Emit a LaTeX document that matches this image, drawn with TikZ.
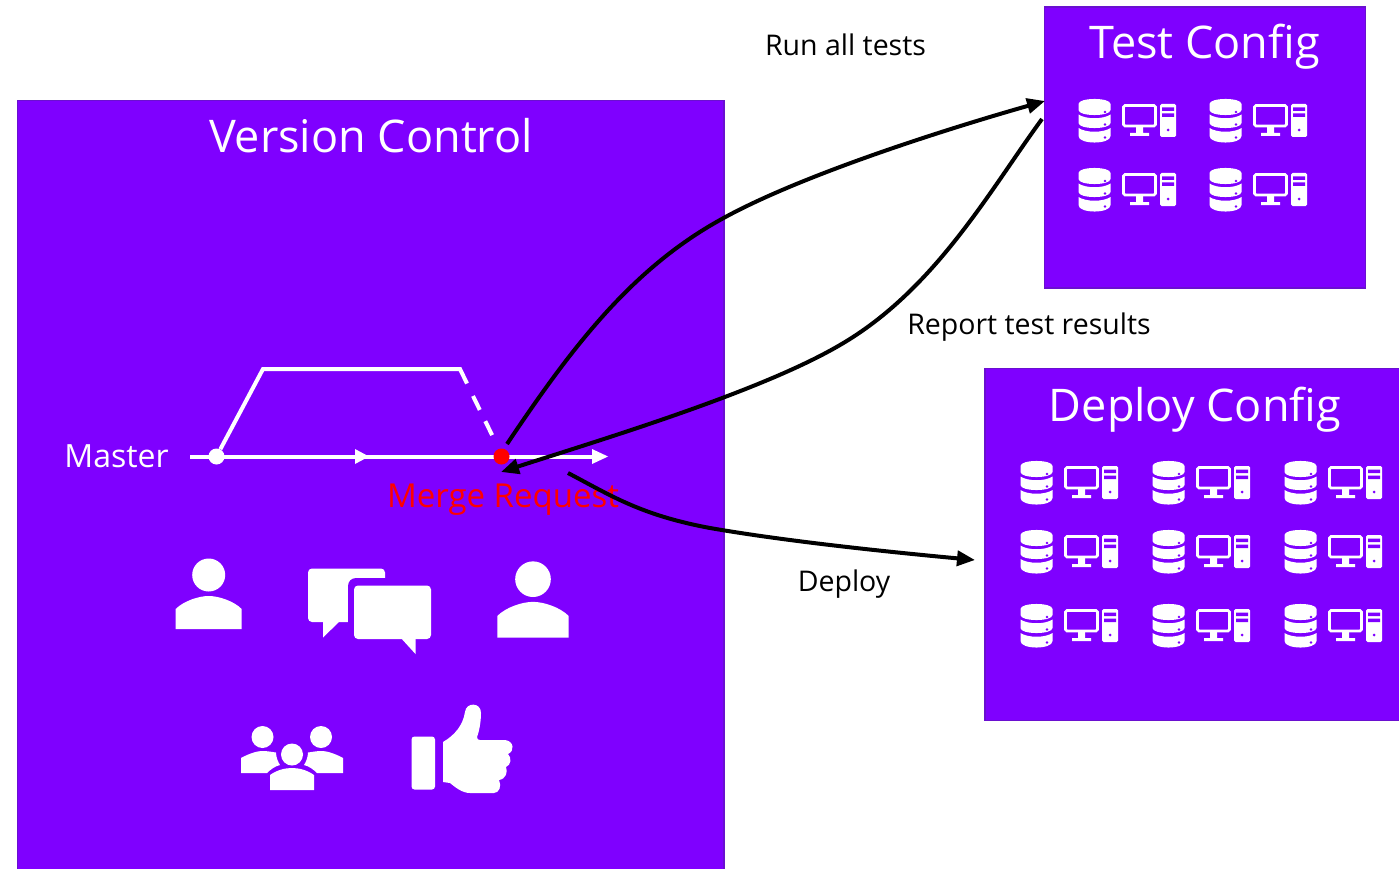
\documentclass[tikz,border=0pt]{standalone}
\usepackage{fontspec}
\setmainfont{Open Sans}
\usetikzlibrary{arrows.meta}
\definecolor{vio}{HTML}{7F00FF}
\definecolor{edgev}{HTML}{6A10D0}
\tikzset{
  panel/.style={draw=edgev,line width=1.8pt,fill=vio,outer sep=0pt},
  title/.style={text=white,font=\fontsize{45}{48}\selectfont,inner sep=0pt,anchor=base},
  lab/.style={text=black,font=\fontsize{28.5}{32}\selectfont,inner sep=0pt,anchor=base},
  branch/.style={white,line width=4pt},
  flow/.style={black,line width=4pt,-{Triangle[length=18pt,width=15pt]}},
  wt/.style={fill=white,draw=none},
  server/.pic={
    % database (origin = top-left of icon)
    \fill[white] (0.5,6) .. controls (0.5,-0.7) and (32.5,-0.7) .. (32.5,6) -- (32.5,12) .. controls (32.5,18.7) and (0.5,18.7) .. (0.5,12) -- cycle;
    \fill[white] (0.5,16.5) .. controls (8,21.5) and (25,21.5) .. (32.5,16.5) -- (32.5,25) .. controls (32.5,31.7) and (0.5,31.7) .. (0.5,25) -- cycle;
    \fill[white] (0.5,30) .. controls (8,35) and (25,35) .. (32.5,30) -- (32.5,38) .. controls (32.5,46.7) and (0.5,46.7) .. (0.5,38) -- cycle;
    \fill[vio] (27,14) circle (1.3) (27,26.5) circle (1.3) (27,39.5) circle (1.3);
    % monitor
    \draw[white,line width=2.6pt,rounded corners=1.5pt] (45.5,7.5) rectangle (77.5,28);
    \fill[white] (58,29) rectangle (65,35) (52,35) rectangle (71,38);
    % tower
    \fill[white,rounded corners=1.5pt] (82,6) rectangle (98,39);
    \fill[vio] (84,9.5) rectangle (96,13) (84,15.5) rectangle (96,19);
    \fill[vio] (90,32) circle (1.5);
  },
  person/.pic={
    \fill[white] (0,-54) circle (16.5);
    \fill[white] (-33,0) -- (-33,-20) .. controls (-25,-28) and (-10,-33) .. (0,-33) .. controls (10,-33) and (25,-28) .. (33,-20) -- (33,0) -- cycle;
  },
}
\begin{document}
\begin{tikzpicture}[x=1pt,y=-1pt]
\useasboundingbox (0,0) rectangle (1399,869);
\node[panel,minimum width=706.5pt,minimum height=775pt,anchor=north west,inner sep=0pt] (vc) at (17.5,100.5) {};
\node[panel,minimum width=321pt,minimum height=281pt,anchor=north west,inner sep=0pt] (tc) at (1044.5,7) {};
\fill[vio,draw=edgev,line width=1.8pt] (1420,368.5) -- (985,368.5) -- (985,720.5) -- (1420,720.5);
\node[title] (t1) at (371,153) {Version Control};
\node[title] (t2) at (1204.5,59) {Test Config};
\node[title] (t3) at (1195,421) {Deploy Config};
\node[lab] (l1) at (845.5,56) {Run all tests};
\node[lab] (l2) at (1029,334) {Report test results};
\node[lab] (l3) at (844,591) {Deploy};
\node[text=white,font=\fontsize{32}{36}\selectfont,inner sep=0pt,anchor=base] (m) at (116.5,467) {Master};
% icons
\foreach \x/\y in {1078/98,1209/98,1078/167,1209/167,1020/460,1152/460,1284/460,1020/529,1152/529,1284/529,1020/603,1152/603,1284/603}
  \pic at (\x,\y) {server};
% branches
\coordinate (start) at (190,456.5);
\coordinate (endm) at (600,456.5);
\coordinate (b1) at (263,369);
\coordinate (b2) at (460,369);
\draw[branch] (start) -- (endm);
\fill[white] (355,449) -- (369,456.5) -- (355,464) -- cycle;
\fill[white] (592,449) -- (608,456.5) -- (592,464) -- cycle;
\node[circle,fill=white,minimum size=16pt,inner sep=0pt] (n1) at (216.5,456.5) {};
\node[circle,fill=red,minimum size=16pt,inner sep=0pt] (n2) at (501.5,456.5) {};
\draw[branch,line join=miter] (n1) -- (b1) -- (b2) -- (467,383.5);
\draw[branch,dash pattern=on 15.5pt off 12.5pt] (473,396) -- (494,439);
\node[text=red,font=\fontsize{33}{36}\selectfont,inner sep=0pt,anchor=base] (mr) at (503,507) {Merge Request};
% people
\pic at (208.7,629) {person};
\pic[scale=1.08] at (533,637.5) {person};
% chat
\fill[wt,rounded corners=4pt] (308,568.5) rectangle (385,622);
\fill[white] (323,620) -- (323,637.5) -- (340,621) -- cycle;
\fill[vio,rounded corners=8pt] (348,578) rectangle (440,650);
\fill[wt,rounded corners=4pt] (354,585.5) rectangle (431,639);
\fill[white] (400,637) -- (415.5,654) -- (415.5,637) -- cycle;
% group
\fill[white] (262.5,737) circle (11) (321,737) circle (11) (292,754.5) circle (11);
\fill[white] (241,773) -- (241,758) .. controls (250,753) and (258,751) .. (262,751) .. controls (268,751) and (272,752) .. (276,752.5) .. controls (276,757) and (278,762) .. (280,765) .. controls (275,766) and (270,770) .. (267,773) -- cycle;
\fill[white] (343,773) -- (343,758) .. controls (334,753) and (326,751) .. (322,751) .. controls (316,751) and (312,752) .. (308,752.5) .. controls (308,757) and (306,762) .. (304,765) .. controls (309,766) and (314,770) .. (317,773) -- cycle;
\fill[white] (270,790) -- (270,775) .. controls (277,770) and (285,768) .. (292,768) .. controls (299,768) and (307,770) .. (314,775) -- (314,790) -- cycle;
% thumb
\fill[wt,rounded corners=3pt] (411.5,736.5) -- (435,736.5) -- (435,789.5) -- (411.5,789.5) -- cycle;
\fill[white] (443,742) .. controls (455,735) and (463,725) .. (465,712) .. controls (466,702) and (481,702) .. (481,713) .. controls (481,722) and (479,732) .. (477,737) .. controls (477,739) and (478,740) .. (480,740) -- (505,740) .. controls (514,741) and (515,751) .. (508,754) .. controls (512,758) and (511,765) .. (506,767) .. controls (508,772) and (506,779) .. (499,780) .. controls (502,786) and (499,793) .. (494,793) -- (470,793) .. controls (462,793) and (455,787) .. (450,783) -- (443,782) -- cycle;
% flows
\coordinate (a0) at (507,444);
\coordinate (a1) at (1045,101);
\coordinate (b0) at (1042,119);
\coordinate (b3) at (501,472);
\coordinate (c0) at (568,473);
\coordinate (c1) at (975,560);
\draw[flow] (a0) .. controls (570,350) and (630,270) .. (720,220) .. controls (800,175) and (950,128) .. (a1);
\draw[flow] (b0) .. controls (990,190) and (935,290) .. (840,345) .. controls (760,392) and (600,440) .. (b3);
\draw[flow] (c0) .. controls (610,495) and (640,515) .. (710,528) .. controls (790,542) and (900,553) .. (c1);
\end{tikzpicture}
\end{document}
